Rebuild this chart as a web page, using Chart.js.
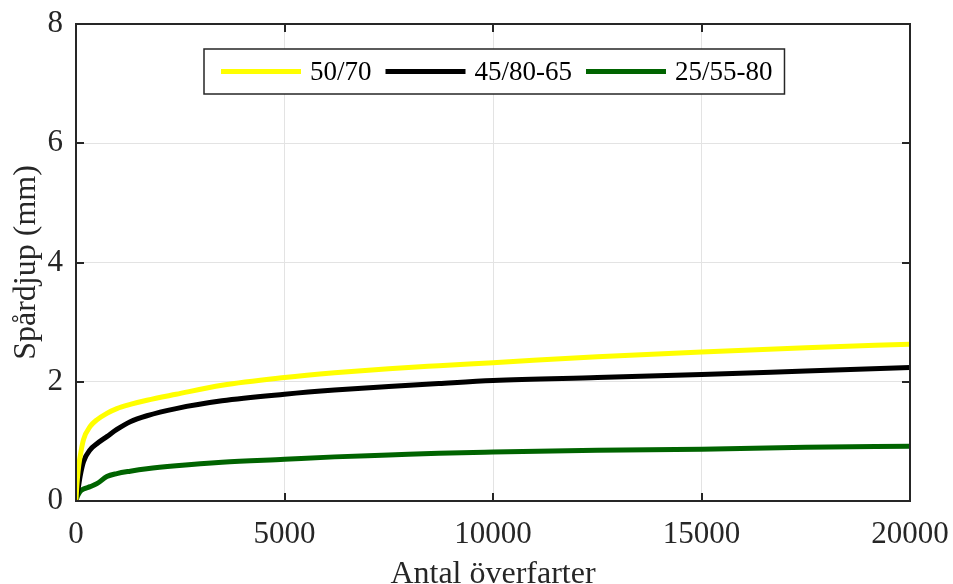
<!DOCTYPE html>
<html>
<head>
<meta charset="utf-8">
<script src="https://cdn.jsdelivr.net/npm/chart.js@4/dist/chart.umd.min.js"></script>
<style>
  html, body { margin: 0; padding: 0; background: #fff; }
  #wrap { width: 953px; height: 584px; }
</style>
</head>
<body>
<div id="wrap"><canvas id="myChart" width="953" height="584"></canvas></div>
<script>
// x values (antal överfarter) shared by all three curves
const passes = [0, 15, 50, 100, 180, 340, 500, 740, 980, 1300, 1700, 2400, 3500,
  5000, 6200, 7500, 8700, 10000, 12500, 15000, 17500, 20000];

const rut5070 = [0.02, 0.2, 0.5, 0.75, 1.03, 1.25, 1.36, 1.47, 1.55, 1.62, 1.69, 1.79, 1.94,
  2.07, 2.15, 2.22, 2.27, 2.32, 2.42, 2.5, 2.57, 2.63];
const rut458065 = [0.0, 0.07, 0.2, 0.42, 0.66, 0.86, 0.96, 1.08, 1.2, 1.33, 1.43, 1.55, 1.68,
  1.79, 1.86, 1.92, 1.97, 2.02, 2.07, 2.12, 2.18, 2.24];
const rut255580 = [0.0, 0.04, 0.1, 0.16, 0.2, 0.24, 0.29, 0.41, 0.46, 0.5, 0.54, 0.59, 0.65,
  0.7, 0.74, 0.77, 0.8, 0.82, 0.85, 0.87, 0.9, 0.92];

const seriesNames = ['50/70', '45/80-65', '25/55-80'];
const seriesColors = ['#ffff00', '#000000', '#006400'];

const xTicks = [0, 5000, 10000, 15000, 20000];
const yTicks = [0, 2, 4, 6, 8];

const axisColor = '#262626';
const fontFam = '"Liberation Serif", "Times New Roman", serif';

function pts(ys) {
  return passes.map((x, i) => ({ x: x, y: ys[i] }));
}

const allSeries = [rut5070, rut458065, rut255580];
const datasets = allSeries.map((ys, i) => ({
  label: seriesNames[i],
  data: pts(ys),
  borderColor: seriesColors[i],
  backgroundColor: seriesColors[i],
  borderWidth: 5,
  pointRadius: 0,
  cubicInterpolationMode: 'monotone',
  fill: false
}));

// MATLAB-like box with inward ticks on all four sides
const boxPlugin = {
  id: 'box',
  afterDatasetsDraw(chart) {
    const { ctx, chartArea: a, scales } = chart;
    const tl = 8;
    ctx.save();
    ctx.strokeStyle = axisColor;
    ctx.lineWidth = 2;
    ctx.strokeRect(a.left, a.top, a.right - a.left, a.bottom - a.top);
    ctx.beginPath();
    xTicks.forEach(v => {
      const px = Math.round(scales.x.getPixelForValue(v));
      ctx.moveTo(px, a.bottom); ctx.lineTo(px, a.bottom - tl);
      ctx.moveTo(px, a.top); ctx.lineTo(px, a.top + tl);
    });
    yTicks.forEach(v => {
      const py = Math.round(scales.y.getPixelForValue(v));
      ctx.moveTo(a.left, py); ctx.lineTo(a.left + tl, py);
      ctx.moveTo(a.right, py); ctx.lineTo(a.right - tl, py);
    });
    ctx.stroke();
    ctx.restore();
  },
  afterDraw(chart) {
    // legend box inside the plot
    const { ctx } = chart;
    const left = 204, top = 49, h = 45;
    const lineLen = 80, gap1 = 9, gap2 = 14, padL = 17;
    ctx.save();
    ctx.font = '27px ' + fontFam;
    let x = left + padL;
    const items = chart.data.datasets.map(ds => {
      const w = ctx.measureText(ds.label).width;
      const it = { x: x, w: w, ds: ds };
      x += lineLen + gap1 + w + gap2;
      return it;
    });
    const right = x - 2;
    ctx.fillStyle = '#fff';
    ctx.fillRect(left, top, right - left, h);
    ctx.strokeStyle = axisColor;
    ctx.lineWidth = 1.5;
    ctx.strokeRect(left, top, right - left, h);
    const cy = top + h / 2;
    items.forEach(it => {
      ctx.strokeStyle = it.ds.borderColor;
      ctx.lineWidth = 5;
      ctx.beginPath();
      ctx.moveTo(it.x, cy); ctx.lineTo(it.x + lineLen, cy);
      ctx.stroke();
      ctx.fillStyle = '#000';
      ctx.textBaseline = 'middle';
      ctx.textAlign = 'left';
      ctx.fillText(it.ds.label, it.x + lineLen + gap1, cy + 1);
    });
    ctx.restore();
  }
};

const config = {
  type: 'line',
  data: { datasets: datasets },
  options: {
    responsive: false,
    devicePixelRatio: 1,
    animation: false,
    layout: { padding: { top: 24, right: 43, left: 0, bottom: 0 } },
    plugins: {
      legend: { display: false },
      tooltip: { enabled: false }
    },
    scales: {
      x: {
        type: 'linear',
        min: 0,
        max: 20000,
        afterBuildTicks: s => { s.ticks = xTicks.map(v => ({ value: v })); },
        afterFit: s => { s.height = 83; s.paddingLeft = 0; s.paddingRight = 0; },
        ticks: {
          callback: v => String(v),
          color: axisColor,
          font: { family: fontFam, size: 31 },
          padding: 15,
          maxRotation: 0
        },
        grid: { color: '#e3e3e3', lineWidth: 1, drawTicks: false },
        border: { display: false },
        title: {
          display: true,
          text: 'Antal överfarter',
          color: axisColor,
          font: { family: fontFam, size: 32, lineHeight: 1 },
          padding: { top: 0, bottom: -7 }
        }
      },
      y: {
        min: 0,
        max: 8,
        afterBuildTicks: s => { s.ticks = yTicks.map(v => ({ value: v })); },
        afterFit: s => { s.width = 76; s.paddingTop = 0; s.paddingBottom = 0; },
        ticks: {
          callback: v => String(v),
          color: axisColor,
          font: { family: fontFam, size: 31 },
          padding: 13
        },
        grid: { color: '#e3e3e3', lineWidth: 1, drawTicks: false },
        border: { display: false },
        title: {
          display: true,
          text: 'Spårdjup (mm)',
          color: axisColor,
          font: { family: fontFam, size: 32, lineHeight: 1 },
          padding: { top: 11, bottom: 0 }
        }
      }
    }
  },
  plugins: [boxPlugin]
};

const myChart = new Chart(document.getElementById('myChart'), config);
</script>
</body>
</html>
